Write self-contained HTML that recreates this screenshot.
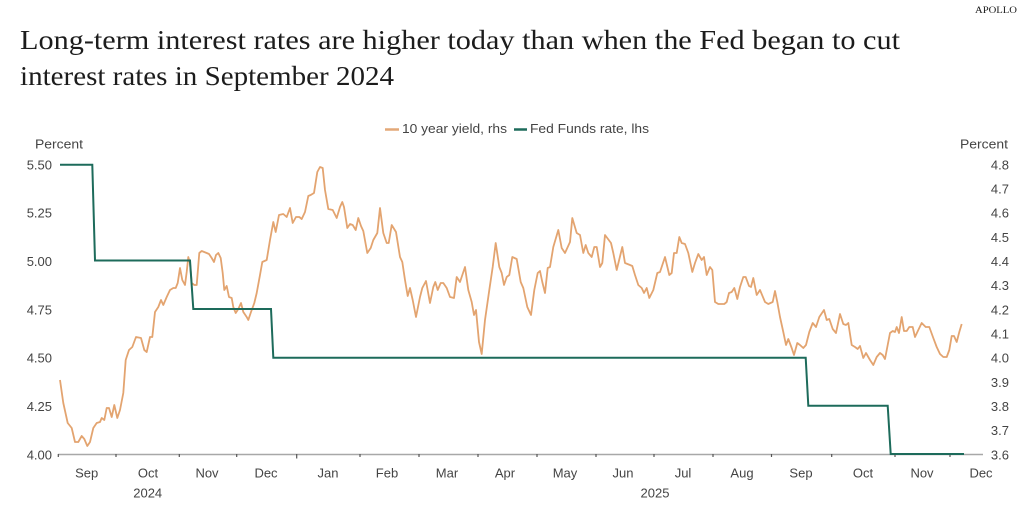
<!DOCTYPE html>
<html>
<head>
<meta charset="utf-8">
<style>
html,body{margin:0;padding:0;background:#fff;}
body{width:1024px;height:506px;overflow:hidden;}
svg{display:block;}
.t{font-family:"Liberation Serif",serif;fill:#1c1c1c;}
.s{font-family:"Liberation Sans",sans-serif;fill:#444;font-size:13px;}
</style>
</head>
<body>
<svg width="1024" height="506" viewBox="0 0 1024 506" xmlns="http://www.w3.org/2000/svg">
<rect width="1024" height="506" fill="#fff"/>
<text x="975" y="13" class="t" font-size="9" textLength="42" lengthAdjust="spacingAndGlyphs" fill="#333">APOLLO</text>
<text x="20" y="49" class="t" font-size="27" textLength="880" lengthAdjust="spacingAndGlyphs">Long-term interest rates are higher today than when the Fed began to cut</text>
<text x="20" y="85" class="t" font-size="27" textLength="374" lengthAdjust="spacingAndGlyphs">interest rates in September 2024</text>

<!-- legend -->
<line x1="385" y1="129.5" x2="399" y2="129.5" stroke="#e3a878" stroke-width="2.5"/>
<text x="402" y="133" class="s" textLength="105" lengthAdjust="spacingAndGlyphs">10 year yield, rhs</text>
<line x1="514" y1="129.5" x2="527" y2="129.5" stroke="#1d6b5b" stroke-width="2.5"/>
<text x="530" y="133" class="s" textLength="119" lengthAdjust="spacingAndGlyphs">Fed Funds rate, lhs</text>

<text x="35" y="148.5" class="s" textLength="48" lengthAdjust="spacingAndGlyphs">Percent</text>
<text x="960" y="148.5" class="s" textLength="48" lengthAdjust="spacingAndGlyphs">Percent</text>

<!-- left axis labels -->
<g class="s" text-anchor="end">
<text x="52" y="169.4">5.50</text>
<text x="52" y="217.7">5.25</text>
<text x="52" y="266.0">5.00</text>
<text x="52" y="314.4">4.75</text>
<text x="52" y="362.7">4.50</text>
<text x="52" y="411.0">4.25</text>
<text x="52" y="459.4">4.00</text>
</g>
<!-- right axis labels -->
<g class="s" text-anchor="end">
<text x="1009" y="169.4">4.8</text>
<text x="1009" y="193.6">4.7</text>
<text x="1009" y="217.7">4.6</text>
<text x="1009" y="241.9">4.5</text>
<text x="1009" y="266.0">4.4</text>
<text x="1009" y="290.2">4.3</text>
<text x="1009" y="314.4">4.2</text>
<text x="1009" y="338.5">4.1</text>
<text x="1009" y="362.7">4.0</text>
<text x="1009" y="386.9">3.9</text>
<text x="1009" y="411.0">3.8</text>
<text x="1009" y="435.2">3.7</text>
<text x="1009" y="459.4">3.6</text>
</g>

<!-- x axis -->
<line x1="58" y1="454.5" x2="983" y2="454.5" stroke="#a8a8a8" stroke-width="1.5"/>
<g stroke="#555" stroke-width="1.2">
<line x1="58.3" y1="454" x2="58.3" y2="457"/>
<line x1="116" y1="454" x2="116" y2="457"/>
<line x1="179.3" y1="454" x2="179.3" y2="457"/>
<line x1="236.7" y1="454" x2="236.7" y2="457"/>
<line x1="296.7" y1="454" x2="296.7" y2="458.5"/>
<line x1="360" y1="454" x2="360" y2="457"/>
<line x1="419" y1="454" x2="419" y2="457"/>
<line x1="478" y1="454" x2="478" y2="457"/>
<line x1="537" y1="454" x2="537" y2="457"/>
<line x1="596" y1="454" x2="596" y2="457"/>
<line x1="654" y1="454" x2="654" y2="457"/>
<line x1="713" y1="454" x2="713" y2="457"/>
<line x1="771.5" y1="454" x2="771.5" y2="457"/>
<line x1="831.7" y1="454" x2="831.7" y2="457"/>
<line x1="895" y1="454" x2="895" y2="457"/>
<line x1="950" y1="454" x2="950" y2="457"/>
</g>
<g class="s" text-anchor="middle">
<text x="86.7" y="477.4">Sep</text>
<text x="148" y="477.4">Oct</text>
<text x="207" y="477.4">Nov</text>
<text x="266" y="477.4">Dec</text>
<text x="328" y="477.4">Jan</text>
<text x="387" y="477.4">Feb</text>
<text x="447" y="477.4">Mar</text>
<text x="505" y="477.4">Apr</text>
<text x="565" y="477.4">May</text>
<text x="623" y="477.4">Jun</text>
<text x="683" y="477.4">Jul</text>
<text x="742" y="477.4">Aug</text>
<text x="801" y="477.4">Sep</text>
<text x="863" y="477.4">Oct</text>
<text x="922" y="477.4">Nov</text>
<text x="981" y="477.4">Dec</text>
<text x="147.7" y="497.7">2024</text>
<text x="655" y="497.7">2025</text>
</g>

<!-- 10 year yield -->
<polyline fill="none" stroke="#e3a470" stroke-width="1.8" stroke-linejoin="round" points="
60,380 63.3,403 67.7,423 71.7,428 75,442 78.3,442 81.7,436 84.3,439 87.3,446 90,442 93.3,428 96.7,423 100,422 101.7,418 104.3,420 106.7,408 109,408 111.7,417 114.3,405 117.3,418 120,410 123.3,393 125.7,360 129,350 132.3,347 136,337 141,338 144.3,350 146.7,352 150,337 152.3,337 155,312 158.3,307 161,300 163.3,305 166.7,297 170,290 173.3,288 175.7,288 177.7,283 180,268 182.3,280 185,285 186.7,272 188.3,257 190,263 191.7,283 194.3,285 196.7,285 199.3,253 201.7,251 206.7,253 209,254 211.7,258 214,262 216,255 218.3,253 220.7,258 222.7,273 224.3,290 226.7,286 229,297 231.7,298 233.3,307 235.7,313 238.3,309 241,303 243.3,312 246.7,317 248.3,320 251,312 254.3,303 256.7,293 260,275 262.3,262 266.7,260 270,240 273.3,222 275.7,232 279,215 283.3,214 286.7,217 290,208
292.7,223 296,217 299.3,217 301.7,219 305,212 308.3,196 310.7,195 314,193 317.3,172 320,167 322.7,168 325,190 328.3,209 332.7,210 336.7,218 340,207 342.3,202 344,207 347.3,228 350,224 352.7,225 355.7,230 358.3,218 361,226 363.3,231 367.3,253 370.7,248 373.3,240 377.3,233 380,208 383.3,233 386.7,243 388.7,243 391.7,225 396,232 400,257 402.3,262 405,280 407.7,296 410,288 412.7,300 416,317 420,297 422.3,288 426,281 430,303 433.3,287 435.3,282 437.7,290 440.7,283 443.3,283 446.7,288 450,297 454,298 456.7,277 460,282 465,267 468.3,290 471.7,302 474,315 476,310 479,342 481.7,354 485,320 489.3,290 492.7,267 495.7,243 499.3,267 501.7,273 504,285 506.7,277 509.3,275 512.3,257 516.7,259 520.7,282 523.3,288 527.3,307 531,315
534.3,290 537.7,273 540,271 542.3,282 545,293 547.7,268 550,267 553.3,247 558.3,230 561.7,248 565,253 570,242 572.3,218 576.7,233 580,235 583.3,253 585.7,245 588.3,253 591.7,257 594.3,247 596.7,247 600,267 602.3,263 605,235 611,243 613.3,253 616.7,270 622.3,247 625,263 630,265 632.3,266 635,275 638.3,285 641.7,288 644,293 646.7,288 649.3,298 653.3,290 657.3,273 660,272 665,257 669.3,275 671.7,273 674,253 676.7,253 679.3,237 681.7,243 685,244 688.3,253 692.3,272 695,263 698.3,254 701.7,260 704,257 706.7,275 710,267 712.3,270 715,302 718.3,304 724.3,304 726.7,302 729,293 731.7,292 734.3,288 737.3,299 740,287 743.3,277 745.7,277 749,286 751,287 753.3,278 756.7,295 760,290 765,302
768.3,304 772.7,302 775,291 777.3,302 780,317 783.3,332 786,345 788.3,339 791.7,348 794,355 797.3,343 800,345 803.3,348 806,345 809.3,332 812.7,323 816,327 819.3,317 824,310 826.7,320 829.3,319 832.7,329 836,333 840,314 843.3,324 846,325 848.3,323 851.7,345 855,347 857.7,349 860,346 863.3,358 866,353 870,360 873.3,365 876.7,357 880,353 882.7,355 885,359 887.7,345 890,333 892.7,331 895,332 896.7,327 899,333 901.7,317 904,331 906.7,331 909.3,327 912.7,327 915,337 918.3,330 921.7,323 925.7,327 929.3,327 933.3,338 936.7,347 940,354 943.3,357 946.7,357 949.3,350 951.7,336 954,336 956.7,342 959.3,332 961.7,324"/>

<!-- Fed funds -->
<polyline fill="none" stroke="#1d6b5b" stroke-width="2" stroke-linejoin="miter" points="
60,164.7 92.3,164.7 95,260.5 190,260.5 193.3,309 271,309 273.3,357.7 805.7,357.7 808.3,405.7 887.7,405.7 890.7,454 964,454"/>
</svg>
</body>
</html>
